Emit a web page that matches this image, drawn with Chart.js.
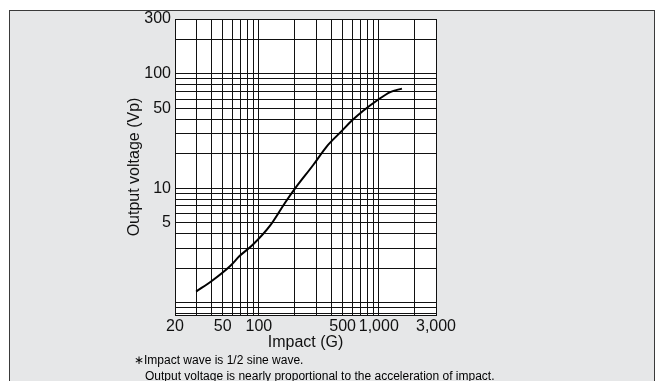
<!DOCTYPE html>
<html>
<head>
<meta charset="utf-8">
<script src="https://cdn.jsdelivr.net/npm/chart.js@4.4.0/dist/chart.umd.min.js"></script>
<style>
  body { margin: 0; background: #fff; width: 663px; height: 381px; overflow: hidden; position: relative; }
  #frame { position: absolute; left: 9px; top: 10px; width: 644px; height: 400px; background: #e6e7e8; border: 1px solid #3a3a3a; }
  #wrap { position: absolute; left: 0; top: 0; width: 663px; height: 381px; }
  .note { position: absolute; font-family: "Liberation Sans", Arial, sans-serif; font-size: 12px; color: #000; white-space: nowrap; }
</style>
</head>
<body>
<div id="frame"></div>
<div id="wrap"><canvas id="impactChart" width="663" height="381"></canvas></div>
<div class="note" style="left:134px; top:353px;">∗Impact wave is 1/2 sine wave.</div>
<div class="note" style="left:145px; top:369px;">Output voltage is nearly proportional to the acceleration of impact.</div>
<script>
// curve
var impact = [30, 41, 58, 69, 89, 124, 166, 200, 285, 369, 492, 597, 746, 966, 1246, 1560];
var voltage = [1.25, 1.56, 2.1, 2.55, 3.2, 4.7, 7.5, 9.9, 16.0, 23.2, 31.6, 38.9, 47.6, 58.3, 69, 74];

// grid lines and the ones that get a label
var xGrid = [20, 30, 40, 50, 60, 70, 80, 90, 100, 200, 300, 400, 500, 600, 700, 800, 900, 1000, 2000, 3000];
var xLabels = [20, 50, 100, 500, 1000, 3000];
var yGrid = [0.8, 0.9, 1, 2, 3, 4, 5, 6, 7, 8, 9, 10, 20, 30, 40, 50, 60, 70, 80, 90, 100, 200, 300];
var yLabels = [5, 10, 50, 100, 300];

var font = "'Liberation Sans', Arial, sans-serif";

var plotBg = {
  id: "plotBg",
  beforeDraw: function (chart) {
    var a = chart.chartArea;
    var ctx = chart.ctx;
    ctx.save();
    ctx.fillStyle = "#ffffff";
    ctx.fillRect(a.left, a.top, a.right - a.left, a.bottom - a.top);
    ctx.restore();
  },
};

var points = impact.map(function (x, i) {
  return { x: x, y: voltage[i] };
});

var ctx = document.getElementById("impactChart").getContext("2d");
var impactChart = new Chart(ctx, {
  type: "line",
  data: {
    datasets: [
      {
        label: "Output voltage",
        data: points,
        borderColor: "#000",
        borderWidth: 2,
        pointRadius: 0,
        fill: false,
        cubicInterpolationMode: "monotone",
      },
    ],
  },
  options: {
    responsive: false,
    animation: false,
    devicePixelRatio: 1,
    layout: { padding: { left: 120, top: 19, right: 227, bottom: 26 } },
    plugins: { legend: { display: false }, tooltip: { enabled: false } },
    scales: {
      x: {
        type: "logarithmic",
        min: 20,
        max: 3000,
        afterBuildTicks: function (scale) {
          scale.ticks = xGrid.map(function (v) { return { value: v }; });
        },
        afterFit: function (scale) { scale.height = 40; },
        grid: { color: "#111", lineWidth: 1, drawTicks: false },
        border: { display: true, color: "#111", width: 1 },
        ticks: {
          autoSkip: false,
          maxRotation: 0,
          padding: 2,
          color: "#111",
          font: { family: font, size: 16 },
          callback: function (v) {
            return xLabels.indexOf(v) >= 0 ? v.toLocaleString("en-US") : "";
          },
        },
        title: {
          display: true,
          text: "Impact (G)",
          color: "#111",
          font: { family: font, size: 16 },
          padding: { top: 0, bottom: 3 },
        },
      },
      y: {
        type: "logarithmic",
        min: 0.78,
        max: 300,
        afterBuildTicks: function (scale) {
          scale.ticks = yGrid.map(function (v) { return { value: v }; });
        },
        afterFit: function (scale) { scale.width = 55; },
        grid: { color: "#111", lineWidth: 1, drawTicks: false },
        border: { display: true, color: "#111", width: 1 },
        ticks: {
          autoSkip: false,
          padding: 4,
          color: "#111",
          font: { family: font, size: 16 },
          callback: function (v) {
            return yLabels.indexOf(v) >= 0 ? String(v) : "";
          },
        },
        title: {
          display: true,
          text: "Output voltage (Vp)",
          color: "#111",
          font: { family: font, size: 16 },
          padding: { top: 5, bottom: 0 },
        },
      },
    },
  },
  plugins: [plotBg],
});
</script>
</body>
</html>
